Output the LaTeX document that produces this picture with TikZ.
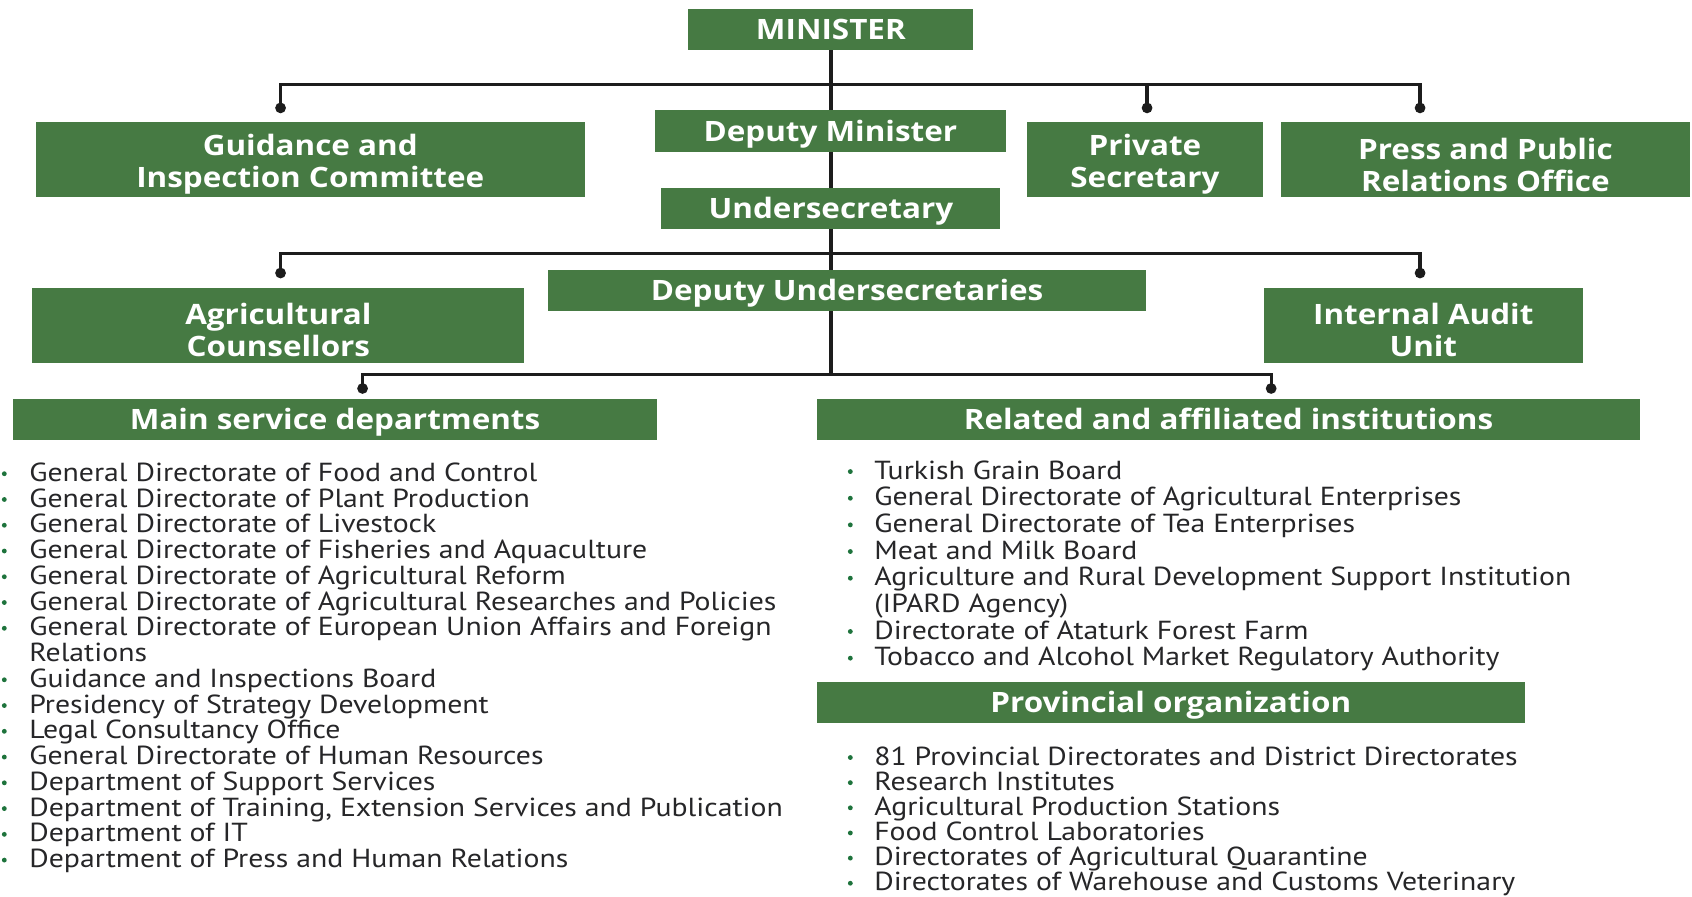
\documentclass[tikz,border=0pt]{standalone}
\usepackage{fontspec}
\setmainfont{PT Sans}
\newfontfamily\listfont[FakeStretch=1.14]{PT Sans}
\newfontfamily\titlefont[FakeStretch=1.12]{Open Sans}
\usetikzlibrary{backgrounds}
\definecolor{boxgreen}{RGB}{70,122,67}
\definecolor{inkgray}{RGB}{38,38,40}
\definecolor{linecol}{RGB}{28,28,28}
\definecolor{bulletgreen}{RGB}{30,115,60}

\begin{document}
\begin{tikzpicture}[x=1pt,y=-1pt,
  panel/.style={fill=boxgreen, inner sep=0pt},
  titletext/.style={text=white, inner sep=0pt, align=center,
    font=\titlefont\bfseries\fontsize{26}{29.8}\selectfont},
  orgbox/.style={panel, titletext, text height=18.6pt, text depth=0pt},
  link/.style={draw=linecol, line width=3pt},
  tip/.style={circle, fill=linecol, inner sep=0pt, minimum size=10pt},
  item/.style={anchor=base west, inner sep=0pt, text=inkgray,
    font=\listfont\fontsize{24.2}{24}\selectfont},
  dot/.style={circle, fill=bulletgreen, inner sep=0pt, minimum size=4.5pt},
]
\useasboundingbox (0,0) rectangle (1568,831);

% ---------- one-line boxes ----------
\node[orgbox, minimum width=264pt, minimum height=38pt] (min) at (770,27) {MINISTER};
\node[orgbox, minimum width=325pt, minimum height=39pt] (dm) at (769.5,121.5) {Deputy Minister};
\node[orgbox, minimum width=314pt, minimum height=38pt] (us) at (770,193) {Undersecretary};
\node[orgbox, minimum width=554pt, minimum height=38pt] (du) at (785,269) {Deputy Undersecretaries};
\node[orgbox, minimum width=597pt, minimum height=38pt] (ms) at (310.5,389) {Main service departments};
\node[orgbox, minimum width=763pt, minimum height=38pt] (ra) at (1138.5,389) {Related and affiliated institutions};
\node[orgbox, minimum width=656pt, minimum height=38pt] (po) at (1085,651) {Provincial organization};

% ---------- two-line boxes ----------
\node[panel, minimum width=509pt, minimum height=70pt] (gic) at (287.5,148) {};
\node[panel, minimum width=218pt, minimum height=70pt] (ps) at (1061,148) {};
\node[panel, minimum width=379pt, minimum height=70pt] (pr) at (1376.5,148) {};
\node[panel, minimum width=456pt, minimum height=69pt] (ac) at (258,301.5) {};
\node[panel, minimum width=296pt, minimum height=69pt] (ia) at (1319,301.5) {};
\begin{scope}[every node/.append style={titletext, yshift=-4.5pt}]
  \node (gic-t) at (gic.center) {Guidance and\\Inspection Committee};
  \node (ps-t) at (ps.center) {Private\\Secretary};
  \node (pr-t) at (pr.center) {Press and Public\\Relations Office};
  \node (ac-t) at (ac.center) {Agricultural\\Counsellors};
  \node (ia-t) at (ia.center) {Internal Audit\\Unit};
\end{scope}

% ---------- branch points and line ends ----------
\coordinate (b1) at (770,78);
\coordinate (b2) at (770,235);
\coordinate (b3) at (770,347);
\coordinate (t-gic) at (260,100);
\coordinate (t-ps) at (1063,100);
\coordinate (t-pr) at (1316,100);
\coordinate (t-ac) at (260,253);
\coordinate (t-ia) at (1316,253);
\coordinate (t-ms) at (336,360);
\coordinate (t-ra) at (1178,360);

\begin{scope}[on background layer]
  \draw[link] (min.south) -- (b3);
  \draw[link] (b1) -| (t-gic);
  \draw[link] (b1) -| (t-ps);
  \draw[link] (b1) -| (t-pr);
  \draw[link] (b2) -| (t-ac);
  \draw[link] (b2) -| (t-ia);
  \draw[link] (b3) -| (t-ms);
  \draw[link] (b3) -| (t-ra);
\end{scope}
\foreach \t in {t-gic,t-ps,t-pr,t-ac,t-ia,t-ms,t-ra}
  \node[tip] at (\t) {};

% ---------- main service departments ----------
\foreach \txt [count=\i from 0] in {
  General Directorate of Food and Control,
  General Directorate of Plant Production,
  General Directorate of Livestock,
  General Directorate of Fisheries and Aquaculture,
  General Directorate of Agricultural Reform,
  General Directorate of Agricultural Researches and Policies,
  General Directorate of European Union Affairs and Foreign,
  Relations,
  Guidance and Inspections Board,
  Presidency of Strategy Development,
  Legal Consultancy Office,
  General Directorate of Human Resources,
  Department of Support Services,
  {Department of Training, Extension Services and Publication},
  Department of IT,
  Department of Press and Human Relations}
{
  \node[item] (ms\i) at (27,{446+23.87*\i}) {\txt};
  \ifnum\i=7\else\node[dot] at (4,{439+23.87*\i}) {};\fi
}

% ---------- related and affiliated institutions ----------
\foreach \txt [count=\i from 0] in {
  Turkish Grain Board,
  General Directorate of Agricultural Enterprises,
  General Directorate of Tea Enterprises,
  Meat and Milk Board,
  Agriculture and Rural Development Support Institution,
  (IPARD Agency),
  Directorate of Ataturk Forest Farm,
  Tobacco and Alcohol Market Regulatory Authority}
{
  \node[item] (ra\i) at (810,{444+24.7*\i}) {\txt};
  \ifnum\i=5\else\node[dot] at (788,{437+24.7*\i}) {};\fi
}

% ---------- provincial organization ----------
\foreach \txt [count=\i from 0] in {
  81 Provincial Directorates and District Directorates,
  Research Institutes,
  Agricultural Production Stations,
  Food Control Laboratories,
  Directorates of Agricultural Quarantine,
  Directorates of Warehouse and Customs Veterinary}
{
  \node[item] (po\i) at (810,{709+23.3*\i}) {\txt};
  \node[dot] at (788,{702+23.3*\i}) {};
}
\end{tikzpicture}
\end{document}
